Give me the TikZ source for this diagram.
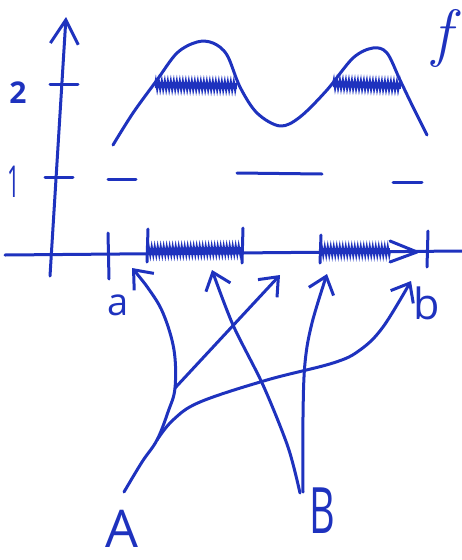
\documentclass[tikz,border=0pt]{standalone}
\usepackage{fontspec}
\newfontfamily\handfont{Open Sans}
\usetikzlibrary{arrows.meta,decorations.pathmorphing}
\definecolor{ink}{RGB}{30,50,190}
\tikzset{
  pen/.style={draw=ink, line width=3pt, line cap=round, line join=round},
  barb/.style={-{Straight Barb[length=16pt,width=26pt]}},
  hatch/.style={draw=ink, line width=2pt, decorate, decoration={zigzag, segment length=3pt, amplitude=4.5pt}},
  core/.style={draw=ink, line width=6pt, line cap=butt},
  lbl/.style={text=ink, inner sep=0pt, anchor=center},
}
\begin{document}
\begin{tikzpicture}[x=1pt, y=-1pt]
\useasboundingbox (0,0) rectangle (462,560);
% axes
\coordinate (yb) at (50,276); \coordinate (yt) at (66,17);
\draw[pen, -{Straight Barb[length=24pt,width=28pt]}] (yb) -- (yt);
\coordinate (xl) at (5,255); \coordinate (xr) at (462,251);
\draw[pen] (xl) -- (xr);
% y ticks and labels
\draw[pen] (50,84) -- (78,84);
\draw[pen] (45,177) -- (73,177);
\node[lbl, font=\handfont\bfseries\fontsize{30}{30}\selectfont] (two) at (18,93) {2};
\node[lbl, font=\handfont\fontsize{44}{44}\selectfont, xscale=0.5] (one) at (14,182) {1};
% function f
\draw[pen] plot[smooth, tension=0.55] coordinates {(113,145) (133,113) (157,80) (177,53) (197,42) (213,43) (227,55) (240,87) (257,113) (280,126) (300,117) (327,90) (353,58) (373,48) (387,53) (400,80) (413,107) (427,135)};
\node[lbl, font=\fontsize{64}{64}\selectfont\itshape] (f) at (442,38) {f};
% level 2 hatching
\draw[core] (155,85) -- (237,86);
\draw[hatch] (155,85) -- (237,86);
\draw[core] (333,84) -- (401,86);
\draw[hatch] (333,84) -- (401,86);
% level 1 dashes
\draw[pen] (108,179) -- (136,179);
\draw[pen] (237,173) -- (322,174);
\draw[pen] (393,182) -- (422,182);
% x-axis features
\draw[pen] (108,233) -- (109,279);
\draw[pen] (148,229) -- (147,262);
\draw[pen] (243,228) -- (242,263);
\draw[core] (148,251) -- (242,250);
\draw[hatch] (148,251) -- (242,250);
\draw[pen] (321,235) -- (320,263);
\draw[core] (321,251) -- (390,251);
\draw[hatch] (321,251) -- (390,251);
\draw[pen] (390,241) -- (417,252) -- (390,262);
\draw[pen] (428,231) -- (427,267);
\node[lbl, font=\handfont\fontsize{38}{38}\selectfont] (a) at (118,305) {a};
\node[lbl, font=\handfont\fontsize{43}{43}\selectfont] (b) at (427,303) {b};
% sources
\node[lbl, font=\handfont\fontsize{52}{52}\selectfont] (A) at (122,529) {A};
\node[lbl, font=\handfont\fontsize{64}{64}\selectfont, xscale=0.62] (B) at (322,511) {B};
\coordinate (As) at (124,492);
\coordinate (Bs) at (300,493);
\coordinate (Bs2) at (303,492);
\coordinate (br1) at (175,388);
\coordinate (br2) at (157,440);
\coordinate (ta) at (132,268);
\coordinate (t2) at (280,275);
\coordinate (tb) at (411,281);
\coordinate (t4) at (212,270);
\coordinate (t5) at (327,274);
% connectors from A
\draw[pen, barb] plot[smooth, tension=0.6] coordinates {(As) (142,462) (br2) (168,412) (br1) (174,350) (163,313) (148,288) (ta)};
\draw[pen, barb] (br1) -- (t2);
\draw[pen, barb] plot[smooth, tension=0.6] coordinates {(br2) (173,420) (200,402) (267,380) (333,363) (360,350) (383,327) (tb)};
% connectors from B
\draw[pen, barb] plot[smooth, tension=0.5] coordinates {(Bs) (288,447) (263,385) (233,325) (t4)};
\draw[pen, barb] plot[smooth, tension=0.6] coordinates {(Bs2) (303,417) (305,363) (312,323) (t5)};
\end{tikzpicture}
\end{document}
